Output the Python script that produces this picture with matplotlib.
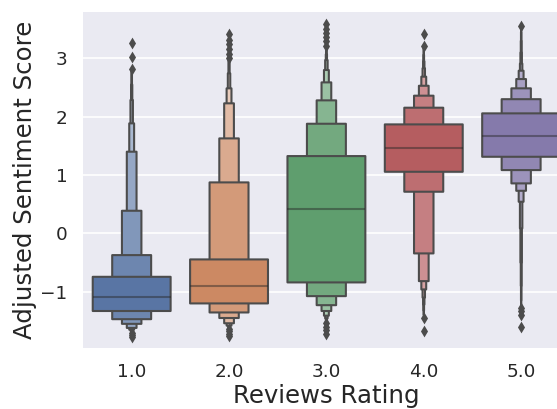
import colorsys
import numpy as np
import matplotlib
matplotlib.use("Agg")
import matplotlib.pyplot as plt
from matplotlib.patches import Rectangle
from matplotlib.collections import PatchCollection
import seaborn as sns

# Letter values per rating, listed from the innermost box (the quartiles) outward
ratings = ["1.0", "2.0", "3.0", "4.0", "5.0"]

medians = [-1.09, -0.90, 0.42, 1.46, 1.67]

lower_ends = [
    [-1.33, -1.47, -1.55, -1.62, -1.65, -1.67, -1.68, -1.69],
    [-1.20, -1.355, -1.45, -1.54, -1.58, -1.60, -1.61],
    [-0.84, -1.075, -1.23, -1.33, -1.41, -1.455, -1.48, -1.50],
    [1.056, 0.714, -0.343, -0.818, -0.96, -1.10, -1.22, -1.32, -1.40],
    [1.313, 1.085, 0.857, 0.73, 0.542, 0.086, -0.50, -0.90, -1.15, -1.24],
]

upper_ends = [
    [-0.744, -0.372, 0.388, 1.40, 1.886, 2.286, 2.55, 2.78],
    [-0.446, 0.874, 1.628, 2.229, 2.486, 2.743, 2.97],
    [1.325, 1.879, 2.28, 2.588, 2.80, 2.97, 3.07, 3.16],
    [1.868, 2.154, 2.36, 2.53, 2.686, 2.83, 2.95, 3.06, 3.18],
    [2.057, 2.30, 2.486, 2.645, 2.788, 2.91, 3.10, 3.30, 3.45, 3.52],
]

outliers = [
    [3.27, 3.02, 2.81, -1.70, -1.74, -1.78],
    [3.42, 3.32, 3.24, 3.16, 3.07, 3.00, -1.64, -1.68, -1.72, -1.76],
    [3.58, 3.50, 3.43, 3.36, 3.29, 3.22, -1.54, -1.60, -1.66, -1.72],
    [3.42, 3.21, -1.45, -1.67],
    [3.55, -1.28, -1.33, -1.40, -1.61],
]

sns.set_theme(style="darkgrid")
plt.rcParams["font.family"] = ["DejaVu Sans"]

palette = [sns.desaturate(c, 0.75) for c in sns.color_palette("deep", 5)]
lum = min(colorsys.rgb_to_hls(*c)[1] for c in palette) * 0.6
edge_gray = (lum, lum, lum)

fig = plt.figure(figsize=(5.57, 4.09), dpi=100)
ax = fig.add_axes([0.149, 0.149, 0.874, 0.8215])
ax.set_facecolor("#EAEAF2")

full_width = 0.8
lw = 1.5

for pos, (lo, hi, med, fl, col) in enumerate(
        zip(lower_ends, upper_ends, medians, outliers, palette)):
    k = len(lo)
    base = np.array(col)
    light = base + 0.85 * (1 - base)
    # outermost box first so the wider inner boxes sit on top
    patches = []
    facecolors = []
    for j in range(k - 1, -1, -1):
        w = full_width * 0.5 ** j
        patches.append(Rectangle((pos - w / 2, lo[j]), w, hi[j] - lo[j]))
        t = j / (k - 1)
        facecolors.append(tuple(base + t * (light - base)))
    pc = PatchCollection(patches, facecolors=facecolors, edgecolors=[edge_gray],
                         linewidths=lw, zorder=2)
    pc.set_snap(False)
    ax.add_collection(pc)
    ax.plot([pos - full_width / 2, pos + full_width / 2], [med, med],
            color=".15", alpha=0.45, solid_capstyle="butt", lw=lw, zorder=3)
    ax.scatter(np.full(len(fl), pos), fl, marker="d", s=36, c=[edge_gray],
               zorder=3, linewidths=0)

ax.set_xlim(-0.5, 4.5)
ax.set_ylim(-1.965, 3.793)
ax.set_xticks(range(len(ratings)))
ax.set_xticklabels(ratings)
ax.set_yticks([-1, 0, 1, 2, 3])
ax.xaxis.grid(False)
ax.yaxis.grid(True, color="white", lw=1.2)
ax.set_axisbelow(True)
for s in ax.spines.values():
    s.set_visible(False)
ax.tick_params(axis="both", length=0, pad=11, labelsize=13.3, labelcolor="#262626")
ax.set_xlabel("Reviews Rating", fontsize=17.6, color="#262626", labelpad=2)
ax.set_ylabel("Adjusted Sentiment Score", fontsize=17.6, color="#262626", labelpad=2.5)

fig.savefig("out.png", dpi=100)
